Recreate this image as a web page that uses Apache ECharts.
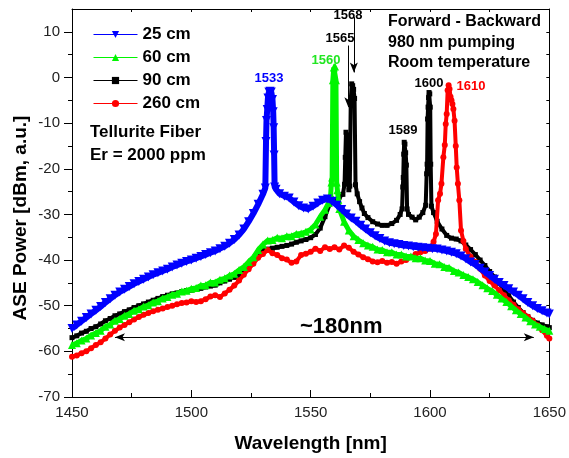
<!DOCTYPE html>
<html><head><meta charset="utf-8">
<script src="https://cdn.jsdelivr.net/npm/echarts@6/dist/echarts.min.js"></script>
<style>html,body{margin:0;padding:0;background:#fff}#c{width:569px;height:458px}</style>
</head><body><div id="c"></div>
<script>
// ---- data ----
const seriesNames = ['25 cm', '60 cm', '90 cm', '260 cm'];

const wl25 = [1450,1452,1454,1456,1458,1460,1462,1464,1466,1468,1470,1472,1474,1476,1478,1480,1482,1484,1486,1488,1490,1492,1494,1496,1498,1500,1502,1504,1506,1508,1510,1512,1514,1516,1518,1520,1522,1524,1526,1528,1530,1531,1531.3,1531.5,1531.8,1532.1,1532.5,1533,1533.5,1534,1534.3,1534.5,1534.7,1534.9,1535.5,1537,1539,1541,1543,1545,1547,1549,1551,1553,1555,1557,1559,1561,1563,1565,1567,1569,1571,1573,1575,1577,1579,1581,1583,1585,1587,1589,1591,1593,1595,1597,1599,1601,1603,1605,1607,1609,1611,1613,1615,1617,1619,1621,1623,1625,1627,1629,1631,1633,1635,1637,1639,1641,1643,1645,1647,1649,1650];
const p25 = [-55.0,-54.2,-53.4,-52.6,-51.8,-51.0,-50.2,-49.3,-48.5,-47.7,-47.0,-46.4,-45.8,-45.2,-44.7,-44.2,-43.7,-43.2,-42.8,-42.4,-42.0,-41.5,-41.1,-40.7,-40.3,-40.0,-39.6,-39.2,-38.8,-38.4,-38.0,-37.5,-37.0,-36.3,-35.5,-34.5,-33.2,-31.6,-29.8,-27.8,-25.6,-24.2,-14,-9.4,-7,-4.5,-3.2,-3.0,-3.2,-4.8,-7.5,-11,-17,-24,-24.5,-25.5,-26,-26.4,-27.3,-28.1,-28.6,-28.8,-28.2,-27.5,-26.9,-26.6,-27.1,-28.0,-28.9,-29.9,-30.8,-31.5,-32.4,-33.2,-34.0,-34.7,-35.3,-35.8,-36.2,-36.4,-36.6,-36.8,-36.9,-37.1,-37.2,-37.3,-37.4,-37.5,-37.6,-37.8,-38.0,-38.3,-38.6,-39.1,-39.7,-40.4,-41.0,-41.8,-42.6,-43.4,-44.2,-44.9,-45.6,-46.3,-47.0,-47.7,-48.5,-49.3,-50.0,-50.6,-51.1,-51.6,-51.8];

const wl60 = [1450,1452,1454,1456,1458,1460,1462,1464,1466,1468,1470,1472,1474,1476,1478,1480,1482,1484,1486,1488,1490,1492,1494,1496,1498,1500,1502,1504,1506,1508,1510,1512,1514,1516,1518,1520,1522,1524,1526,1528,1530,1532,1534,1536,1538,1540,1542,1544,1546,1548,1550,1552,1554,1556,1557.5,1558.4,1558.7,1559.0,1559.3,1559.7,1560.2,1560.6,1560.9,1561.2,1561.6,1562,1564,1566,1568,1570,1572,1574,1576,1578,1580,1582,1584,1586,1588,1590,1592,1594,1596,1598,1600,1602,1604,1606,1608,1610,1612,1614,1616,1618,1620,1622,1624,1626,1628,1630,1632,1634,1636,1638,1640,1642,1644,1646,1648,1650];
const p60 = [-58.6,-58.2,-57.6,-57.2,-56.5,-56.0,-55.5,-54.6,-54.1,-53.3,-52.9,-52.2,-51.8,-51.1,-50.8,-50.2,-49.9,-49.3,-49.0,-48.4,-48.1,-47.6,-47.4,-46.9,-46.7,-46.3,-46.1,-45.6,-45.5,-44.9,-44.9,-44.3,-44.0,-43.4,-43.0,-42.2,-41.5,-40.4,-39.4,-37.8,-36.6,-35.7,-35.6,-35.1,-35.2,-34.8,-34.8,-34.3,-34.2,-33.8,-33.3,-32.2,-30.5,-29.0,-27.5,-25.6,-23.0,-21.9,-0.6,2.2,2.4,-0.6,-23.0,-24.7,-26.8,-28.8,-31.6,-33.5,-34.8,-35.6,-36.3,-36.8,-37.1,-37.7,-37.8,-38.3,-38.3,-38.8,-38.8,-39.2,-39.2,-39.6,-39.6,-40.1,-40.2,-40.8,-40.9,-41.5,-41.7,-42.4,-42.7,-43.3,-43.7,-44.2,-44.8,-45.5,-46.2,-46.8,-47.6,-48.4,-49.2,-50.1,-51.0,-51.8,-52.6,-53.4,-54.1,-54.6,-55.1,-55.5];

const wl90 = [1450,1452,1454,1456,1458,1460,1462,1464,1466,1468,1470,1472,1474,1476,1478,1480,1482,1484,1486,1488,1490,1492,1494,1496,1498,1500,1502,1504,1506,1508,1510,1512,1514,1516,1518,1520,1522,1524,1526,1528,1530,1532,1534,1536,1538,1540,1542,1544,1546,1548,1550,1552,1554,1556,1558,1560,1562,1563.5,1564.2,1564.5,1564.8,1565.1,1565.4,1565.7,1566.0,1566.4,1566.8,1567.2,1567.6,1568.0,1568.4,1568.8,1569.5,1570.5,1571.5,1572.5,1574,1576,1578,1580,1582,1584,1586,1587.5,1588.3,1588.6,1588.8,1589.0,1589.2,1589.5,1589.8,1590.1,1590.4,1591,1592.5,1594,1595.5,1597,1598.2,1598.6,1598.8,1599.0,1599.2,1599.4,1599.6,1599.9,1600.1,1600.3,1600.6,1601.5,1603,1605,1607,1609,1611,1613,1615,1617,1619,1621,1623,1625,1627,1629,1631,1633,1635,1637,1639,1641,1643,1645,1647,1649,1650];
const p90 = [-57.0,-56.6,-56.0,-55.6,-55.0,-54.6,-54.0,-53.3,-52.8,-52.2,-51.8,-51.3,-50.9,-50.4,-50.0,-49.6,-49.2,-48.8,-48.4,-48.0,-47.7,-47.4,-47.2,-46.9,-46.7,-46.6,-46.4,-46.2,-45.9,-45.7,-45.5,-45.0,-44.6,-44.2,-43.8,-43.3,-42.5,-41.4,-40.0,-38.6,-37.9,-37.6,-37.4,-37.2,-37.0,-36.8,-36.5,-36.1,-35.8,-35.5,-35.1,-34.4,-33.0,-30.5,-27.8,-27.0,-26.2,-25.6,-23.4,-17.5,-12.0,-12.6,-14.6,-20.3,-24.6,-23.8,-5.0,-1.4,-1.8,-2.6,-4.6,-23.5,-25.5,-27.2,-28.6,-29.8,-30.7,-31.6,-32.1,-32.4,-32.4,-32.0,-31.3,-30.0,-28.8,-24.0,-21.9,-16.8,-14.2,-14.6,-16.5,-19.2,-28.8,-30.0,-30.6,-31.2,-30.6,-29.6,-28.0,-21.1,-19.0,-9.1,-6.5,-4.4,-3.3,-3.6,-6.5,-19.0,-28.2,-29.6,-31.5,-33.2,-34.6,-35.2,-35.4,-35.8,-36.7,-37.7,-38.8,-40.0,-41.2,-42.5,-43.7,-45.1,-46.5,-47.8,-49.2,-50.4,-51.5,-52.4,-53.2,-53.8,-54.2,-54.6,-54.8];

const wl260 = [1450,1452,1454,1456,1458,1460,1462,1464,1466,1468,1470,1472,1474,1476,1478,1480,1482,1484,1486,1488,1490,1492,1494,1496,1498,1500,1502,1504,1506,1508,1510,1512,1514,1516,1518,1520,1522,1524,1526,1528,1530,1532,1534,1536,1538,1540,1542,1544,1546,1548,1550,1552,1554,1556,1558,1560,1562,1564,1566,1568,1570,1572,1574,1576,1578,1580,1582,1584,1586,1588,1590,1592,1594,1596,1598,1600,1601.5,1602.5,1603.4,1604.2,1604.8,1605.6,1606.2,1606.6,1607.0,1607.4,1607.8,1608.2,1608.6,1609.0,1609.4,1609.8,1610.3,1610.8,1611.2,1611.7,1612.3,1613.0,1614,1615,1617,1619,1621,1623,1625,1627,1629,1631,1633,1635,1637,1639,1641,1643,1645,1647,1649,1650];
const p260 = [-61.2,-60.9,-60.4,-60.0,-59.3,-58.6,-58.0,-57.2,-56.3,-55.5,-54.8,-54.2,-53.6,-53.0,-52.5,-52.0,-51.6,-51.2,-50.9,-50.6,-50.3,-50.0,-49.7,-49.4,-49.3,-49.0,-49.2,-49.0,-48.6,-48.0,-47.7,-48.1,-47.3,-46.5,-45.6,-44.5,-43.2,-42.0,-40.8,-39.5,-38.7,-37.8,-38.5,-38.9,-39.6,-39.9,-40.6,-40.3,-38.9,-38.6,-38.2,-37.5,-38.0,-37.2,-37.6,-37.2,-37.7,-36.8,-37.3,-38.2,-38.8,-39.4,-39.8,-40.3,-40.5,-40.2,-40.6,-40.4,-40.8,-40.3,-40.0,-39.3,-38.7,-38.3,-38.0,-37.5,-36.0,-34.3,-26.9,-25.5,-23.3,-17.5,-14.8,-10.2,-8.0,-2.8,-1.7,-2.5,-4.2,-5.0,-5.8,-6.9,-9.5,-15.0,-19.7,-23.3,-26.9,-33.5,-35.8,-37.6,-39.3,-40.4,-41.9,-43.4,-44.6,-45.6,-46.6,-47.7,-48.8,-49.8,-50.8,-51.6,-52.4,-53.3,-54.3,-55.4,-56.6,-57.2];

const xTickLabels = [1450, 1500, 1550, 1600, 1650];
const yTickLabels = [-70, -60, -50, -40, -30, -20, -10, 0, 10];
const yMinorTicks = [-65, -55, -45, -35, -25, -15, -5, 5];

// ---- chart ----
const FONT = '"Liberation Sans", Arial, sans-serif';
const pairs = (xs, ys) => xs.map((x, i) => [x, ys[i]]);
const chart = echarts.init(document.getElementById('c'), null, {renderer: 'canvas'});

const lineSeries = (name, xs, ys, color, symbol, size, lw, z) => ({
  name, type: 'line', data: pairs(xs, ys), xAxisIndex: 0, yAxisIndex: 0,
  symbol, symbolSize: size, showSymbol: true, showAllSymbol: true,
  itemStyle: {color}, lineStyle: {color, width: lw}, z,
  emphasis: {disabled: true}, animation: false
});

const black = lineSeries('90 cm', wl90, p90, '#000000', 'rect', 5, 4, 2);
black.markLine = {
  silent: true, symbol: ['none', 'arrow'], symbolSize: [6, 10],
  lineStyle: {color: '#000', width: 1, type: 'solid'}, label: {show: false},
  animation: false,
  data: [
    [{coord: [1565.8, 7.0]}, {coord: [1565.8, -6.5]}],
    [{coord: [1568.1, 13.2]}, {coord: [1568.1, 1.1]}],
    [{coord: [1468, -56.9], symbol: 'arrow'}, {coord: [1643.5, -56.9]}]
  ]
};

const txt = (text, x, y, size, color, align) => ({
  type: 'text', x, y, z: 100, silent: true,
  style: {text, fill: color, font: 'bold ' + size + 'px ' + FONT,
          textAlign: align || 'center', textVerticalAlign: 'middle'}
});

const plain = v => String(v);

chart.setOption({
  animation: false,
  backgroundColor: '#fff',
  grid: {left: 72, right: 15, top: 9, bottom: 58, containLabel: false},
  legend: {
    data: seriesNames, orient: 'vertical', left: 88, top: 21,
    itemWidth: 44, itemHeight: 9, itemGap: 6, itemTextGap: 5,
    lineStyle: {width: 1},
    textStyle: {fontFamily: FONT, fontWeight: 'bold', fontSize: 17, color: '#000',
                width: 60, align: 'right', lineHeight: 17},
    selectedMode: false
  },
  xAxis: [
    {type: 'value', position: 'bottom', min: 1450, max: 1650, interval: 50,
     axisLine: {show: true, onZero: false, lineStyle: {color: '#000', width: 1}},
     axisTick: {show: true, inside: true, length: 7, lineStyle: {color: '#000'}},
     axisLabel: {show: true, margin: 8, color: '#222', fontSize: 15, fontFamily: FONT,
                 customValues: xTickLabels, formatter: plain},
     splitLine: {show: false},
     name: 'Wavelength [nm]', nameLocation: 'middle', nameGap: 37,
     nameTextStyle: {fontFamily: FONT, fontWeight: 'bold', fontSize: 19, color: '#000'}},
    {type: 'value', position: 'bottom', min: 1450, max: 1650, interval: 25,
     axisLine: {show: false, onZero: false},
     axisTick: {show: true, inside: true, length: 4, lineStyle: {color: '#000'}},
     axisLabel: {show: false}, splitLine: {show: false}},
    {type: 'value', position: 'top', min: 1450, max: 1650, interval: 25,
     axisLine: {show: true, onZero: false, lineStyle: {color: '#000', width: 1}},
     axisTick: {show: true, inside: true, length: 3, lineStyle: {color: '#000'}},
     axisLabel: {show: false}, splitLine: {show: false}}
  ],
  yAxis: [
    {type: 'value', position: 'left', min: -70, max: 15, interval: 10,
     axisLine: {show: true, onZero: false, lineStyle: {color: '#000', width: 1}},
     axisTick: {show: true, inside: false, length: 8, lineStyle: {color: '#000'},
                customValues: yTickLabels},
     axisLabel: {show: true, margin: 12, color: '#222', fontSize: 15, fontFamily: FONT,
                 customValues: yTickLabels, formatter: plain},
     splitLine: {show: false}},
    {type: 'value', position: 'left', min: -70, max: 15, interval: 5,
     axisLine: {show: false, onZero: false},
     axisTick: {show: true, inside: false, length: 4, lineStyle: {color: '#000'},
                customValues: yMinorTicks},
     axisLabel: {show: false}, splitLine: {show: false}},
    {type: 'value', position: 'right', min: -70, max: 15, interval: 5,
     axisLine: {show: true, onZero: false, lineStyle: {color: '#000', width: 1}},
     axisTick: {show: true, inside: true, length: 3, lineStyle: {color: '#000'}},
     axisLabel: {show: false}, splitLine: {show: false}}
  ],
  series: [
    lineSeries('260 cm', wl260, p260, '#ff0000', 'circle', 6, 4, 3),
    black,
    lineSeries('60 cm', wl60, p60, '#00f500', 'triangle', 8, 5, 4),
    Object.assign(lineSeries('25 cm', wl25, p25, '#0000ff', 'triangle', 9, 6, 5), {symbolRotate: 180})
  ],
  graphic: [
    {type: 'text', x: 21, y: 218, rotation: Math.PI / 2, z: 100, silent: true,
     style: {text: 'ASE Power [dBm, a.u.]', fill: '#000', font: 'bold 19px ' + FONT,
             textAlign: 'center', textVerticalAlign: 'middle'}},
    txt('1533', 269, 78, 13, '#0000ff'),
    txt('1560', 326, 60, 13, '#22e622'),
    txt('1565', 340, 38, 13, '#000'),
    txt('1568', 348, 15, 13, '#000'),
    txt('1589', 403, 130, 13, '#000'),
    txt('1600', 429, 83, 13, '#000'),
    txt('1610', 471, 86, 13, '#ff0000'),
    txt('Forward - Backward', 388, 22, 16, '#000', 'left'),
    txt('980 nm pumping', 388, 43, 16, '#000', 'left'),
    txt('Room temperature', 388, 63, 16, '#000', 'left'),
    txt('Tellurite Fiber', 90, 132, 17, '#000', 'left'),
    txt('Er = 2000 ppm', 90, 155, 17, '#000', 'left'),
    txt('~180nm', 300, 327, 22, '#000', 'left')
  ]
});
</script></body></html>
